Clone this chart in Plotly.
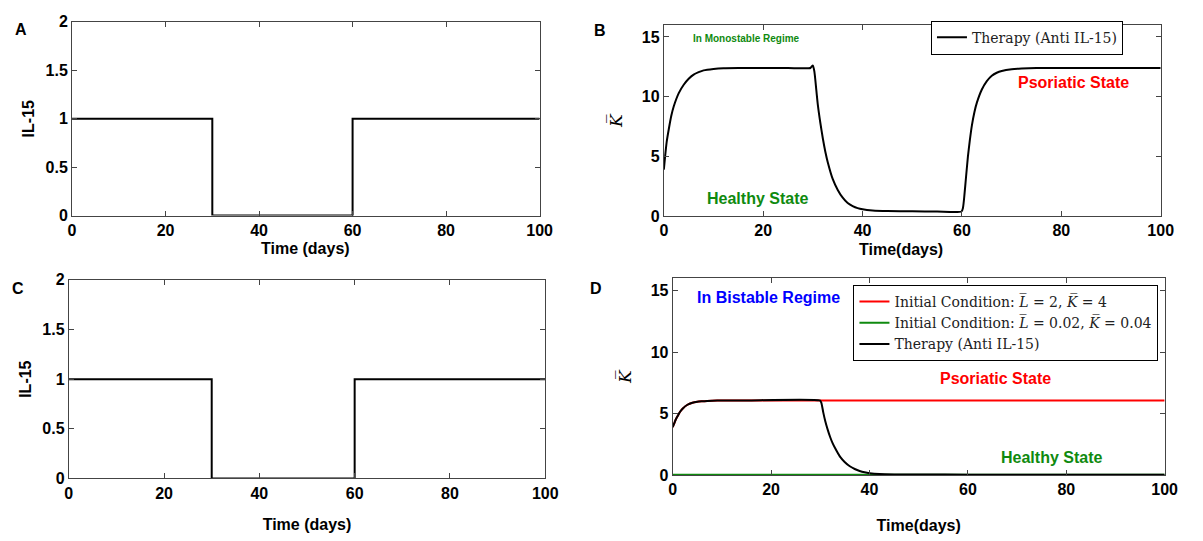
import plotly.graph_objects as go

# ---------------- data ----------------
il15_t = [0, 30, 30, 60, 60, 100]
il15_v = [1, 1, 0, 0, 1, 1]

# Panel B: monostable regime, therapy (anti IL-15)
b_t = [0, 0.3, 0.6, 1, 1.5, 2, 3, 4, 5, 6, 7, 8, 10, 12, 15, 20, 25, 29.5, 29.8, 30.0,
       30.3, 30.7, 31.0, 31.5, 32, 32.5, 33, 34, 35, 36, 37, 38, 39, 40, 42, 45, 50, 55, 59.9,
       60.2, 60.5, 60.8, 61.2, 61.6, 62, 62.5, 63, 64, 65, 66, 67, 68, 70, 72, 75, 80, 90, 100]
b_k = [3.9, 5.2, 6.3, 7.3, 8.4, 9.2, 10.3, 11.0, 11.5, 11.85, 12.05, 12.2, 12.32, 12.38, 12.4, 12.4, 12.4, 12.4, 12.55, 12.6,
       12.1, 10.5, 9.3, 7.8, 6.5, 5.4, 4.5, 3.1, 2.2, 1.55, 1.1, 0.85, 0.68, 0.58, 0.48, 0.43, 0.41, 0.4, 0.4,
       0.7, 1.8, 3.2, 5.0, 6.4, 7.6, 8.7, 9.5, 10.6, 11.3, 11.75, 12.0, 12.15, 12.3, 12.36, 12.4, 12.4, 12.4, 12.4]

# Panel D: bistable regime
d_red_t = [0, 0.3, 0.6, 1, 1.5, 2, 3, 4, 5, 6, 7, 8, 10, 15, 30, 60, 100]
d_red_k = [3.9, 4.2, 4.5, 4.8, 5.15, 5.4, 5.72, 5.88, 5.96, 6.0, 6.03, 6.05, 6.06, 6.07, 6.07, 6.07, 6.07]

d_green_t = [0, 20, 40, 60, 80, 100]
d_green_k = [0.04, 0.04, 0.04, 0.04, 0.04, 0.04]

d_blk_t = [0, 0.3, 0.6, 1, 1.5, 2, 3, 4, 5, 6, 7, 8, 10, 15, 29.9,
           30.2, 30.6, 31, 31.5, 32, 32.5, 33, 34, 35, 36, 37, 38, 39, 40, 42, 45, 50, 60, 80, 100]
d_blk_k = [3.9, 4.2, 4.5, 4.8, 5.15, 5.4, 5.72, 5.88, 5.96, 6.0, 6.03, 6.05, 6.06, 6.07, 6.07,
           5.9, 5.1, 4.4, 3.7, 3.1, 2.6, 2.2, 1.5, 1.05, 0.72, 0.5, 0.34, 0.23, 0.16, 0.09, 0.06, 0.05, 0.04, 0.04, 0.04]

x_ticks = [0, 20, 40, 60, 80, 100]
il_ticks = [0, 0.5, 1, 1.5, 2]
il_ticklabels = ["0", "0.5", "1", "1.5", "2"]
k_ticks = [0, 5, 10, 15]

GREEN = "#0f8a0f"
RED = "#ff0000"
BLUE = "#0000ff"
FRAME = "#444444"
SANS = "Liberation Sans"
SERIF = "DejaVu Serif"
KBAR = "<i>K\u0305</i>"
LBAR = "<i>L\u0305</i>"

fig = go.Figure()

fig.add_trace(go.Scatter(x=il15_t, y=il15_v, mode="lines", line=dict(color="black", width=2),
                         xaxis="x", yaxis="y", showlegend=False))
fig.add_trace(go.Scatter(x=b_t, y=b_k, mode="lines", line=dict(color="black", width=2, shape="spline", smoothing=0.6),
                         xaxis="x2", yaxis="y2", name="Therapy (Anti IL-15)", legend="legend"))
fig.add_trace(go.Scatter(x=il15_t, y=il15_v, mode="lines", line=dict(color="black", width=2),
                         xaxis="x3", yaxis="y3", showlegend=False))
fig.add_trace(go.Scatter(x=d_red_t, y=d_red_k, mode="lines", line=dict(color=RED, width=2, shape="spline", smoothing=0.6),
                         xaxis="x4", yaxis="y4", name=f"Initial Condition: {LBAR} = 2, {KBAR} = 4", legend="legend2"))
fig.add_trace(go.Scatter(x=d_green_t, y=d_green_k, mode="lines", line=dict(color=GREEN, width=2),
                         xaxis="x4", yaxis="y4", name=f"Initial Condition: {LBAR} = 0.02, {KBAR} = 0.04", legend="legend2"))
fig.add_trace(go.Scatter(x=d_blk_t, y=d_blk_k, mode="lines", line=dict(color="black", width=2, shape="spline", smoothing=0.6),
                         xaxis="x4", yaxis="y4", name="Therapy (Anti IL-15)", legend="legend2"))

tickfont = dict(family=SANS, size=16, color="black", weight="bold")
titlefont = dict(family=SANS, size=16, color="black", weight="bold")


def xax(domain, anchor, title, standoff):
    return dict(domain=domain, anchor=anchor, range=[0, 100], tickvals=x_ticks,
                ticks="inside", ticklen=5, tickcolor=FRAME, showline=True, linecolor=FRAME,
                linewidth=1, mirror="ticks", showgrid=False, zeroline=False, tickfont=tickfont,
                title=dict(text=title, font=titlefont, standoff=standoff))


def yax(domain, anchor, rng, vals, texts, title, tfont, standoff):
    return dict(domain=domain, anchor=anchor, range=rng, tickvals=vals, ticktext=texts,
                ticks="inside", ticklen=5, tickcolor=FRAME, showline=True, linecolor=FRAME,
                linewidth=1, mirror="ticks", showgrid=False, zeroline=False, tickfont=tickfont,
                title=dict(text=title, font=tfont, standoff=standoff))


kfont = dict(family=SERIF, size=17, color="black")
legfont = dict(family=SERIF, size=14, color="#222")

fig.update_layout(
    width=1203, height=541, margin=dict(l=0, r=0, t=0, b=0),
    paper_bgcolor="white", plot_bgcolor="white",
    xaxis=xax([0.05736, 0.45162], "y", "", 0),
    yaxis=yax([0.60388, 0.97357], "x", [0, 2], il_ticks, il_ticklabels, "IL-15", titlefont, 6),
    xaxis2=xax([0.55636, 0.97531], "y2", "", 0),
    yaxis2=yax([0.60259, 0.96765], "x2", [0, 16], k_ticks, [str(v) for v in k_ticks], KBAR, kfont, 14),
    xaxis3=xax([0.05461, 0.45636], "y3", "Time (days)", 18),
    yaxis3=yax([0.10222, 0.48115], "x3", [0, 2], il_ticks, il_ticklabels, "IL-15", titlefont, 6),
    xaxis4=xax([0.56384, 0.97864], "y4", "Time(days)", 22),
    yaxis4=yax([0.10850, 0.48429], "x4", [0, 16], k_ticks, [str(v) for v in k_ticks], KBAR, kfont, 14),
    legend=dict(x=1135 / 1203, y=1 - 13 / 541, xanchor="right", yanchor="top", xref="paper", yref="paper",
                bgcolor="white", bordercolor="black", borderwidth=1,
                font=legfont, itemwidth=30, tracegroupgap=0),
    legend2=dict(x=1171 / 1203, y=1 - 286 / 541, xanchor="right", yanchor="top", xref="paper", yref="paper",
                 bgcolor="white", bordercolor="black", borderwidth=1,
                 font=legfont, itemwidth=30, tracegroupgap=0),
)

ann = []


def label(x, y, text, size=15, color="black"):
    ann.append(dict(x=x / 1203, y=1 - y / 541, xref="paper", yref="paper", text=text, showarrow=False,
                    font=dict(family=SANS, size=size, color=color, weight="bold"),
                    xanchor="center", yanchor="middle"))


label(306, 248, "Time (days)", 16)
label(910, 249, "Time(days)", 16)
label(17, 22, "A", 16)
label(605, 23, "B", 16)
label(14, 290, "C", 16)
label(600, 290, "D", 16)
label(753, 31, "In Monostable Regime", 10, GREEN)
label(764, 197, "Healthy State", 16, GREEN)
label(1085, 77, "Psoriatic State", 16, RED)
label(775, 299, "In Bistable Regime", 16, BLUE)
label(1006, 383, "Psoriatic State", 16, RED)
label(1063, 464, "Healthy State", 16, GREEN)

fig.update_layout(annotations=ann)

fig.write_html("out.html")
